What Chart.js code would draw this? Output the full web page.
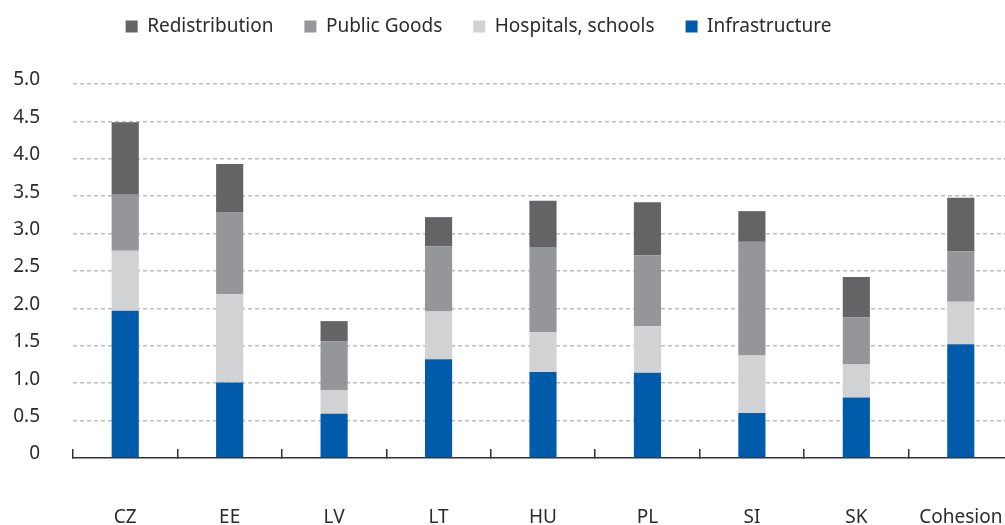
<!DOCTYPE html>
<html>
<head>
<meta charset="utf-8">
<script src="https://cdn.jsdelivr.net/npm/chart.js@4/dist/chart.umd.min.js"></script>
<style>
html,body{margin:0;padding:0;background:#fff;overflow:hidden;width:1005px;height:525px;}
#wrap{width:1013px;height:525px;position:relative;}
</style>
</head>
<body>
<div id="wrap"><canvas id="c"></canvas></div>
<script>
const categories = ["CZ","EE","LV","LT","HU","PL","SI","SK","Cohesion"];
const infrastructure = [1.97,1.01,0.59,1.32,1.15,1.14,0.60,0.81,1.52];
const hospitalsSchools = [0.80,1.18,0.32,0.64,0.53,0.62,0.77,0.44,0.57];
const publicGoods = [0.75,1.10,0.65,0.87,1.14,0.95,1.52,0.63,0.67];
const redistribution = [0.97,0.64,0.27,0.39,0.62,0.71,0.41,0.54,0.72];
const seriesNames = ["Infrastructure","Hospitals, schools","Public Goods","Redistribution"];
const seriesColors = ["#005baa","#d1d2d4","#959699","#646466"];
const yTicks = [0,0.5,1,1.5,2,2.5,3,3.5,4,4.5,5];

const FONT = "'Noto Sans', 'DejaVu Sans', sans-serif";
const TXT = "#2b2b2b";

const legendTweak = {
  id: 'legendTweak',
  beforeInit(chart) {
    const orig = chart.legend.fit;
    chart.legend.fit = function () {
      orig.call(this);
      this.height = 98;
    };
  },
  afterLayout(chart) {
    const lg = chart.legend;
    lg.left -= 28; lg.right -= 28;
  }
};

const data = {
  labels: categories,
  datasets: [infrastructure, hospitalsSchools, publicGoods, redistribution].map((vals, i) => ({
    label: seriesNames[i],
    data: vals,
    backgroundColor: seriesColors[i],
    borderWidth: 0,
    categoryPercentage: 1,
    barPercentage: 0.26
  }))
};

new Chart(document.getElementById('c'), {
  type: 'bar',
  data,
  plugins: [legendTweak],
  options: {
    responsive: true,
    maintainAspectRatio: false,
    animation: false,
    devicePixelRatio: 1,
    layout: { padding: { top: -14, right: 0, left: 0, bottom: 0 } },
    plugins: {
      tooltip: { enabled: false },
      legend: {
        position: 'top',
        reverse: true,
        labels: {
          boxWidth: 12,
          boxHeight: 12,
          padding: 31,
          color: TXT,
          font: { family: FONT, size: 19 }
        }
      }
    },
    scales: {
      x: {
        stacked: true,
        border: { display: true, color: '#333333', width: 1.5 },
        grid: {
          display: true,
          offset: true,
          drawOnChartArea: false,
          drawTicks: true,
          tickLength: -9,
          color: '#333333',
          lineWidth: 1.5
        },
        ticks: {
          color: TXT,
          padding: 57,
          font: { family: FONT, size: 19 },
          maxRotation: 0,
          autoSkip: false
        },
        afterFit(s) { s.height = 67; s.paddingLeft = 0; s.paddingRight = 0; }
      },
      y: {
        stacked: true,
        min: 0,
        max: 5,
        border: { display: false, dash: [4, 3] },
        grid: {
          drawTicks: false,
          color: (ctx) => (ctx.tick && ctx.tick.value === 0) ? 'rgba(0,0,0,0)' : '#bdbdbd',
          lineWidth: 1.5
        },
        ticks: {
          stepSize: 0.5,
          padding: 33,
          labelOffset: -4,
          color: TXT,
          font: { family: FONT, size: 19 },
          callback: (v) => v === 0 ? '0' : Number(v).toFixed(1)
        },
        afterBuildTicks(s) { s.ticks = yTicks.map(v => ({ value: v })); },
        afterFit(s) { s.width = 73; }
      }
    }
  }
});
</script>
</body>
</html>
